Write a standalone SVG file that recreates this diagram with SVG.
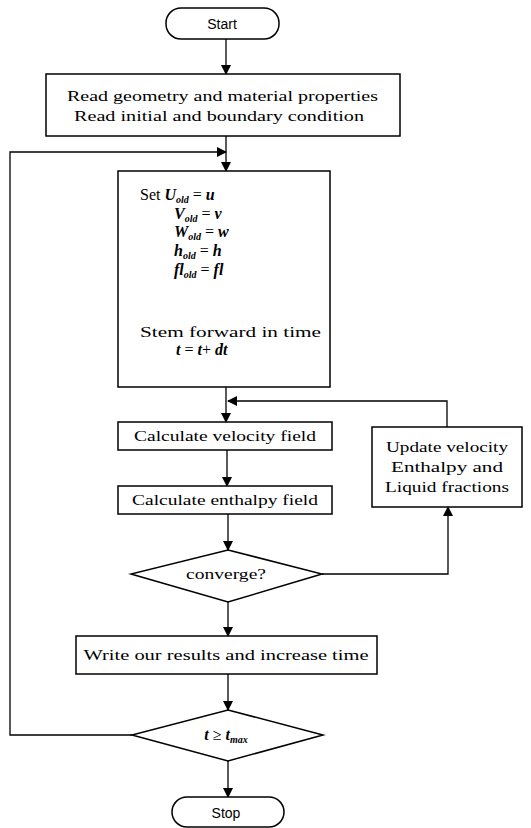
<svg xmlns="http://www.w3.org/2000/svg" width="531" height="828" viewBox="0 0 531 828">
<defs>
<marker id="ah" markerWidth="10" markerHeight="10" refX="9" refY="5" orient="auto" markerUnits="userSpaceOnUse">
<path d="M0,0 L10,5 L0,10 Z" fill="#000"/>
</marker>
<style>
.box{fill:#fff;stroke:#000;stroke-width:1.5}
.ln{fill:none;stroke:#000;stroke-width:1.3}
.t{font-family:"Liberation Serif","DejaVu Serif",serif;font-size:15px;fill:#000}
.s{font-family:"Liberation Sans",Arial,sans-serif;font-size:14px;fill:#000}
.m{font-family:"Liberation Serif","DejaVu Serif",serif;font-style:italic;font-weight:bold;font-size:16px;fill:#000}
.sub{font-size:10px}
</style>
</defs>
<rect width="531" height="828" fill="#fff"/>
<g id="connectors">
<line class="ln" x1="226" y1="39" x2="226" y2="74" marker-end="url(#ah)"/>
<line class="ln" x1="226" y1="136" x2="226" y2="171" marker-end="url(#ah)"/>
<line class="ln" x1="226" y1="387" x2="226" y2="422" marker-end="url(#ah)"/>
<line class="ln" x1="227" y1="450" x2="227" y2="486" marker-end="url(#ah)"/>
<line class="ln" x1="228" y1="514" x2="228" y2="550" marker-end="url(#ah)"/>
<line class="ln" x1="228" y1="602" x2="228" y2="636" marker-end="url(#ah)"/>
<line class="ln" x1="228" y1="674" x2="228" y2="710" marker-end="url(#ah)"/>
<line class="ln" x1="228" y1="761" x2="228" y2="797" marker-end="url(#ah)"/>
<polyline class="ln" points="322,574 448,574 448,507" marker-end="url(#ah)"/>
<polyline class="ln" points="447,427 447,401 228,401" marker-end="url(#ah)"/>
<polyline class="ln" points="132,735 10,735 10,152 226,152" marker-end="url(#ah)"/>
</g>
<g id="start">
<rect class="box" x="166" y="8" width="113" height="31" rx="15" ry="15"/>
<text class="s" x="222" y="29" text-anchor="middle">Start</text>
</g>
<g id="read">
<rect class="box" x="46" y="74" width="354" height="62"/>
<text class="t" x="67" y="101" textLength="311" lengthAdjust="spacingAndGlyphs">Read geometry and material properties</text>
<text class="t" x="74" y="121" textLength="290" lengthAdjust="spacingAndGlyphs">Read initial and boundary condition</text>
</g>
<g id="set">
<rect class="box" x="118" y="171" width="212" height="216"/>
<text class="t" x="140" y="200" style="font-size:16px">Set <tspan class="m">U<tspan class="sub" dy="3">old</tspan><tspan dy="-3" font-style="normal" font-weight="normal"> = </tspan>u</tspan></text>
<text class="m" x="174" y="219">V<tspan class="sub" dy="3">old</tspan><tspan dy="-3" font-style="normal" font-weight="normal"> = </tspan>v</text>
<text class="m" x="174" y="237">W<tspan class="sub" dy="3">old</tspan><tspan dy="-3" font-style="normal" font-weight="normal"> = </tspan>w</text>
<text class="m" x="174" y="256">h<tspan class="sub" dy="3">old</tspan><tspan dy="-3" font-style="normal" font-weight="normal"> = </tspan>h</text>
<text class="m" x="174" y="275">fl<tspan class="sub" dy="3">old</tspan><tspan dy="-3" font-style="normal" font-weight="normal"> = </tspan>fl</text>
<text class="t" x="140" y="337" textLength="181" lengthAdjust="spacingAndGlyphs">Stem forward in time</text>
<text class="m" x="176" y="355">t<tspan font-style="normal" font-weight="normal"> = </tspan>t<tspan font-style="normal" font-weight="normal">+ </tspan>dt</text>
</g>
<g id="velocity">
<rect class="box" x="118" y="422" width="214" height="28"/>
<text class="t" x="225" y="441" text-anchor="middle" textLength="182" lengthAdjust="spacingAndGlyphs">Calculate velocity field</text>
</g>
<g id="enthalpy">
<rect class="box" x="118" y="486" width="214" height="28"/>
<text class="t" x="225" y="505" text-anchor="middle" textLength="186" lengthAdjust="spacingAndGlyphs">Calculate enthalpy field</text>
</g>
<g id="update">
<rect class="box" x="372" y="427" width="150" height="80"/>
<text class="t" x="447" y="452" text-anchor="middle" textLength="122" lengthAdjust="spacingAndGlyphs">Update velocity</text>
<text class="t" x="447" y="472" text-anchor="middle" textLength="112" lengthAdjust="spacingAndGlyphs">Enthalpy and</text>
<text class="t" x="447" y="492" text-anchor="middle" textLength="124" lengthAdjust="spacingAndGlyphs">Liquid fractions</text>
</g>
<g id="converge">
<polygon class="box" points="228,550 322,574 228,602 131,574"/>
<text class="t" x="226" y="579" text-anchor="middle" textLength="80" lengthAdjust="spacingAndGlyphs">converge?</text>
</g>
<g id="write">
<rect class="box" x="76" y="636" width="301" height="38"/>
<text class="t" x="226" y="660" text-anchor="middle" textLength="285" lengthAdjust="spacingAndGlyphs">Write our results and increase time</text>
</g>
<g id="tmax">
<polygon class="box" points="228,710 323,735 228,761 132,735"/>
<text class="m" x="226" y="740" text-anchor="middle">t<tspan font-style="normal" font-weight="normal"> ≥ </tspan>t<tspan class="sub" dy="3">max</tspan></text>
</g>
<g id="stop">
<rect class="box" x="172" y="797" width="112" height="30" rx="15" ry="15"/>
<text class="s" x="226" y="818" text-anchor="middle">Stop</text>
</g>
</svg>
